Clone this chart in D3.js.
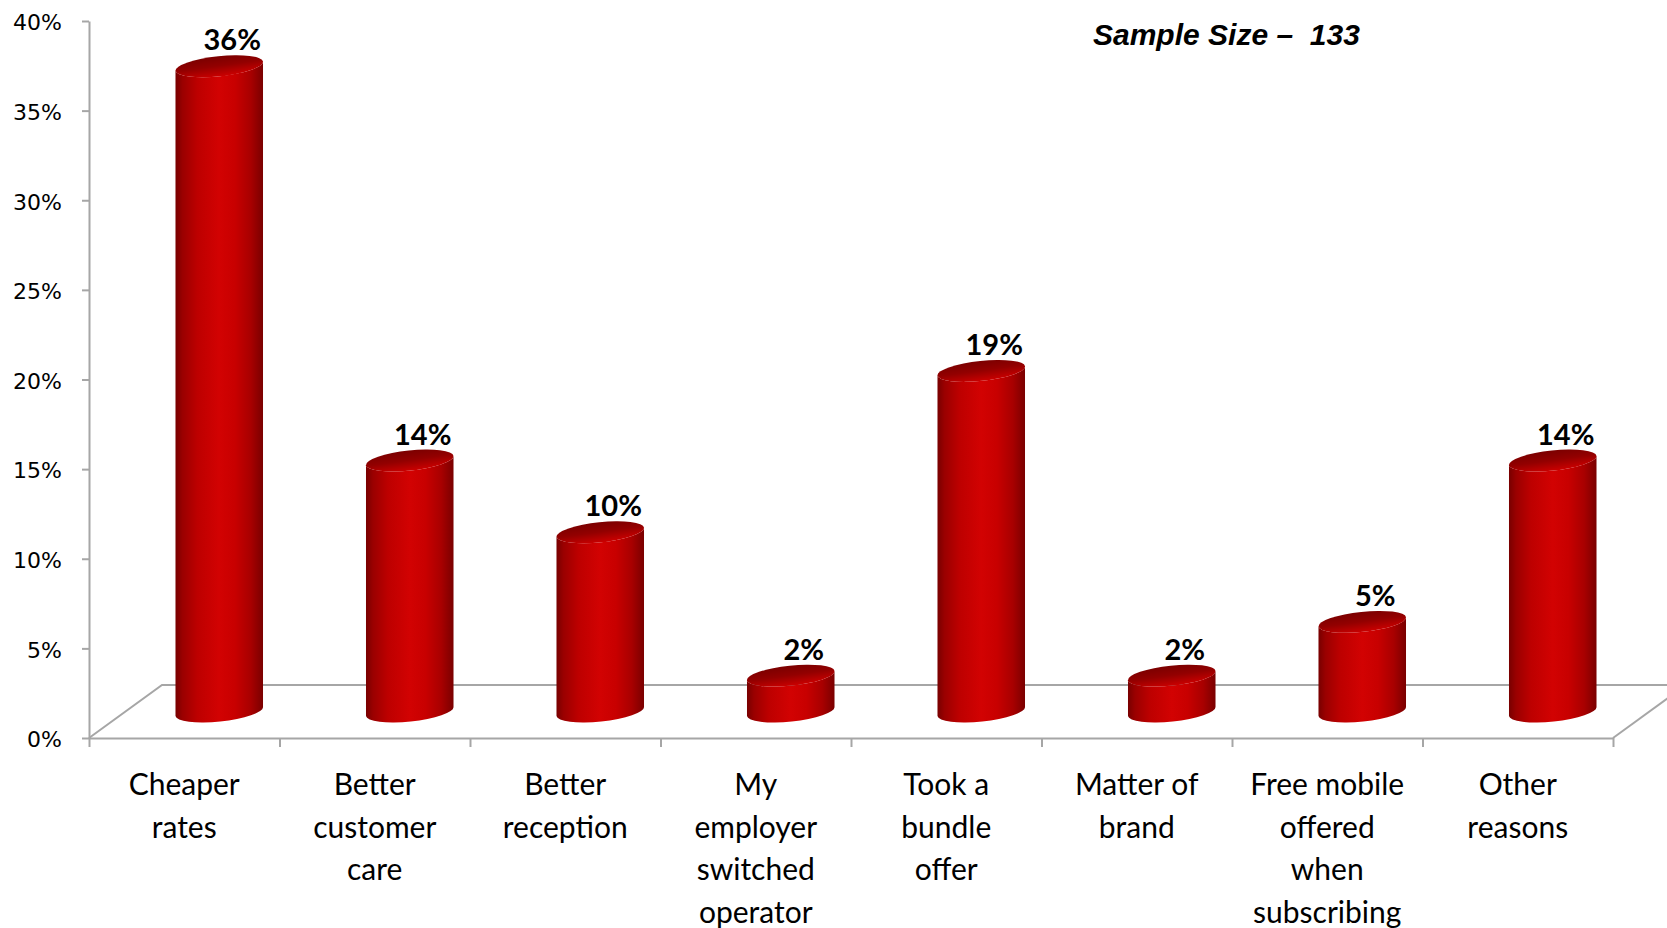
<!DOCTYPE html>
<html>
<head>
<meta charset="utf-8">
<script src="https://cdn.jsdelivr.net/npm/d3@7"></script>
<style>
  html, body { margin: 0; padding: 0; background: #ffffff; }
  svg { display: block; }
</style>
</head>
<body>
<svg id="chart" width="1667" height="928"></svg>
<script>
// Reasons for switching operator (share of respondents, %)
const categories = [
  "Cheaper\nrates",
  "Better\ncustomer\ncare",
  "Better\nreception",
  "My\nemployer\nswitched\noperator",
  "Took a\nbundle\noffer",
  "Matter of\nbrand",
  "Free mobile\noffered\nwhen\nsubscribing",
  "Other\nreasons"
];
const values = [36, 14, 10, 2, 19, 2, 5, 14];
const yTicks = [0, 5, 10, 15, 20, 25, 30, 35, 40];
const sampleNote = "Sample Size \u2013  133";

const svg = d3.select("#chart");

// Plot frame: front edge of the floor and the value axis
const plotLeft = 89, plotRight = 1613;
const floorY = 738, axisTop = 21;
const depthX = 73, depthY = -53;           // floor depth offset (front -> back)

const y = d3.scaleLinear().domain([0, 40]).range([floorY, axisTop]);
const x = d3.scaleBand().domain(categories).range([plotLeft, plotRight]).padding(0);
const edges = d3.scaleLinear().domain([0, categories.length]).range([plotLeft, plotRight]);

const gridColor = "#a6a6a6";

// ---- gradients for the cylinders ----
const defs = svg.append("defs");
const body = defs.append("linearGradient").attr("id", "cylBody")
  .attr("x1", "0%").attr("x2", "100%").attr("y1", "0%").attr("y2", "0%");
[[0, "#780000"], [0.08, "#9a0000"], [0.25, "#bd0000"], [0.5, "#d20202"],
 [0.68, "#c80000"], [0.86, "#a80000"], [1, "#7a0000"]]
  .forEach(([o, c]) => body.append("stop").attr("offset", o).attr("stop-color", c));

const cap = defs.append("linearGradient").attr("id", "cylCap")
  .attr("x1", "30%").attr("x2", "45%").attr("y1", "0%").attr("y2", "100%");
[[0, "#7a0000"], [0.5, "#930000"], [0.85, "#b80000"], [1, "#c80000"]]
  .forEach(([o, c]) => cap.append("stop").attr("offset", o).attr("stop-color", c));

// ---- floor ----
const floor = svg.append("g").attr("fill", "none").attr("stroke", gridColor).attr("stroke-width", 2);
floor.append("path").attr("d", [
  "M", plotLeft, floorY, "L", plotLeft + depthX, floorY + depthY,
  "L", plotRight + depthX, floorY + depthY
].join(" "));
floor.append("path").attr("d", [
  "M", plotRight, floorY, "L", plotRight + depthX, floorY + depthY
].join(" "));

// ---- value axis ----
const yAxis = svg.append("g")
  .attr("transform", `translate(${plotLeft},0)`)
  .call(d3.axisLeft(y).tickValues(yTicks).tickFormat(d => d + "%").tickSize(7).tickSizeOuter(0).tickPadding(20));
yAxis.select(".domain").attr("stroke", gridColor).attr("stroke-width", 2);
yAxis.selectAll(".tick line").attr("stroke", gridColor).attr("stroke-width", 2);
yAxis.selectAll(".tick text")
  .attr("font-family", "'DejaVu Sans', Verdana, sans-serif")
  .attr("font-size", 22)
  .attr("fill", "#000")
  .attr("dy", "0.4em");

// ---- category axis (front floor edge) ----
const xAxis = svg.append("g")
  .attr("transform", `translate(0,${floorY})`)
  .call(d3.axisBottom(edges).tickValues(d3.range(categories.length + 1)).tickFormat("").tickSize(9).tickSizeOuter(0));
xAxis.select(".domain").attr("stroke", gridColor).attr("stroke-width", 2);
xAxis.selectAll(".tick line").attr("stroke", gridColor).attr("stroke-width", 2);

// ---- category labels ----
const lineGap = 42.5;
const catLabels = svg.append("g")
  .attr("font-family", "Lato, 'Open Sans', sans-serif")
  .attr("font-size", 30)
  .attr("fill", "#000")
  .attr("text-anchor", "middle");
categories.forEach(c => {
  const cx = x(c) + x.bandwidth() / 2;
  const t = catLabels.append("text").attr("x", cx).attr("y", 795);
  c.split("\n").forEach((line, i) => {
    t.append("tspan").attr("x", cx).attr("dy", i === 0 ? 0 : lineGap).text(line);
  });
});

// ---- cylinders ----
const rx = 44, ry = 10, tilt = -6;
const baseY = floorY + depthY / 2;
const shiftX = depthX / 2 - 1.5;
const rad = tilt * Math.PI / 180;
const ex = rx * Math.cos(rad), ey = rx * Math.sin(rad);

const bars = svg.append("g");
const valueLabels = svg.append("g")
  .attr("text-anchor", "middle")
  .attr("font-family", "Lato, 'Open Sans', sans-serif")
  .attr("font-weight", "bold")
  .attr("font-size", 29)
  .attr("fill", "#000");

categories.forEach((c, i) => {
  const v = values[i];
  const cx = x(c) + x.bandwidth() / 2 + shiftX;
  const topY = baseY - (y(0) - y(v));
  const g = bars.append("g");
  g.append("path")
    .attr("d", [
      "M", cx - ex, topY - ey,
      "L", cx - ex, baseY - ey,
      "A", rx, ry, tilt, 0, 0, cx + ex, baseY + ey,
      "L", cx + ex, topY + ey,
      "A", rx, ry, tilt, 0, 1, cx - ex, topY - ey, "Z"
    ].join(" "))
    .attr("fill", "url(#cylBody)");
  g.append("ellipse")
    .attr("cx", 0).attr("cy", 0).attr("rx", rx).attr("ry", ry)
    .attr("transform", `translate(${cx},${topY}) rotate(${tilt})`)
    .attr("fill", "url(#cylCap)");
  // value label above the cap
  valueLabels.append("text")
    .attr("x", cx + 13)
    .attr("y", topY - 16)
    .text(v + "%");
});

// ---- sample size note ----
svg.append("text")
  .attr("x", 1093)
  .attr("y", 45)
  .attr("font-family", "'Liberation Sans', Arial, sans-serif")
  .attr("font-weight", "bold")
  .attr("font-style", "italic")
  .attr("font-size", 30)
  .attr("fill", "#000")
  .attr("xml:space", "preserve")
  .style("white-space", "pre")
  .text(sampleNote);
</script>
</body>
</html>
